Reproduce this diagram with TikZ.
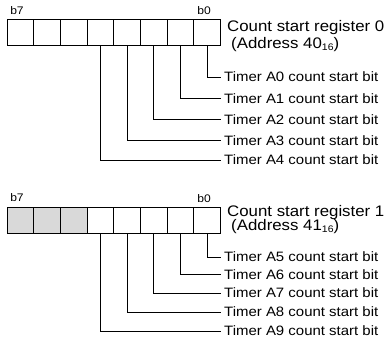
\documentclass[tikz,border=0pt]{standalone}
\usepackage{fontspec}
\setmainfont[FakeStretch=1.1]{Liberation Sans}
\usetikzlibrary{positioning}

\definecolor{cellgray}{HTML}{D9D9D9}

\tikzset{
  bitcell/.style={draw,line width=1pt,minimum width=26.7pt,minimum height=26pt,inner sep=0pt,outer sep=0pt},
  bitname/.style={font=\fontsize{11}{11}\selectfont,inner sep=0pt},
  bitlabel/.style={anchor=west,inner sep=3pt,font=\fontsize{13.6}{14}\selectfont},
  regname/.style={anchor=west,inner sep=1pt,font=\fontsize{15.3}{16}\selectfont},
  wire/.style={line width=0.8pt}
}

\newcommand{\hexsub}[1]{\raisebox{-0.25ex}{\fontsize{9.5}{9.5}\selectfont #1}}

\begin{document}
\begin{tikzpicture}[x=1pt,y=-1pt]
	\useasboundingbox (0,0) rectangle (387,338);

	% ======================================================
	% Count start register 0
	% ======================================================
	\foreach \b in {0,...,7}
		\node[bitcell] (ra\b) at ({7+26.7*(7.5-\b)},32) {};

	\node[bitname] (ranamehi) at (17,10.5) {b7};
	\node[bitname] (ranamelo) at (204,11) {b0};

	\node[regname] (rega) at (226,28) {Count start register 0};
	\node[regname] (rega addr) at (230,45) {(Address 40\hexsub{16})};

	% bit wires to their labels
	\foreach \b/\y in {0/77,1/98.5,2/119.5,3/140.5,4/160} {
		\node[bitlabel] (ta\b) at (221,\y) {Timer A\b\ count start bit};
		\draw[wire] (ra\b.south) |- (ta\b.west);
	}

	% ======================================================
	% Count start register 1 (b5 to b7 not used)
	% ======================================================
	\foreach \b in {0,...,4}
		\node[bitcell] (rb\b) at ({7+26.7*(7.5-\b)},220.5) {};
	\foreach \b in {5,6,7}
		\node[bitcell,fill=cellgray] (rb\b) at ({7+26.7*(7.5-\b)},220.5) {};

	\node[bitname] (rbnamehi) at (17,197.5) {b7};
	\node[bitname] (rbnamelo) at (204,199) {b0};

	\node[regname] (regb) at (226,213) {Count start register 1};
	\node[regname] (regb addr) at (230,227) {(Address 41\hexsub{16})};

	% bit wires to their labels
	\foreach \b/\n/\y in {0/5/257,1/6/274.5,2/7/293,3/8/312,4/9/331} {
		\node[bitlabel] (tb\b) at (221,\y) {Timer A\n\ count start bit};
		\draw[wire] (rb\b.south) |- (tb\b.west);
	}

\end{tikzpicture}
\end{document}
